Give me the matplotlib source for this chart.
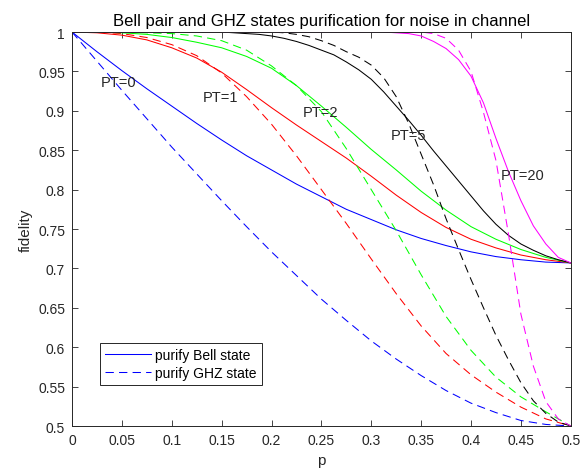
import numpy as np
import matplotlib
matplotlib.use("Agg")
import matplotlib.pyplot as plt
from matplotlib.lines import Line2D

matplotlib.rcParams['font.family'] = ['Liberation Sans', 'DejaVu Sans']

# p grid for the smoother curves (step 0.025) and the steep ones (step 0.0125)
p_coarse = np.linspace(0, 0.5, 21)
p_fine = np.linspace(0, 0.5, 41)

# PT=0
bell_pt0 = [1.0, 0.975, 0.951, 0.928, 0.906, 0.884, 0.863, 0.843, 0.825, 0.807, 0.791,
            0.775, 0.762, 0.749, 0.738, 0.729, 0.721, 0.715, 0.711, 0.708, 0.707]
ghz_pt0 = [1.0, 0.963, 0.926, 0.890, 0.854, 0.820, 0.786, 0.753, 0.721, 0.691, 0.661,
           0.634, 0.608, 0.585, 0.564, 0.545, 0.529, 0.517, 0.507, 0.502, 0.5]
# PT=1
bell_pt1 = [1.0, 0.999, 0.996, 0.990, 0.980, 0.967, 0.949, 0.927, 0.904, 0.882, 0.861,
            0.840, 0.817, 0.793, 0.771, 0.752, 0.737, 0.726, 0.717, 0.711, 0.707]
ghz_pt1 = [1.0, 1.0, 0.998, 0.993, 0.984, 0.970, 0.948, 0.918, 0.883, 0.843, 0.800,
           0.757, 0.712, 0.668, 0.627, 0.592, 0.565, 0.543, 0.524, 0.509, 0.5]
# PT=2
bell_pt2 = [1.0, 1.0, 0.999, 0.997, 0.993, 0.987, 0.980, 0.969, 0.954, 0.932, 0.906,
            0.879, 0.851, 0.825, 0.798, 0.774, 0.753, 0.737, 0.724, 0.714, 0.707]
ghz_pt2 = [1.0, 1.0, 1.0, 0.999, 0.998, 0.995, 0.989, 0.977, 0.957, 0.932, 0.899,
           0.852, 0.800, 0.748, 0.692, 0.639, 0.596, 0.562, 0.537, 0.518, 0.5]
# PT=5
bell_pt5 = [1.0] * 13 + [0.999, 0.998, 0.997, 0.995, 0.992, 0.988, 0.983, 0.977, 0.971,
                         0.962, 0.952, 0.940, 0.924, 0.906, 0.888, 0.869, 0.849, 0.830,
                         0.811, 0.792, 0.773, 0.756, 0.742, 0.731, 0.723, 0.716, 0.711, 0.707]
ghz_pt5 = [1.0] * 17 + [0.999, 0.997, 0.994, 0.989, 0.983, 0.975, 0.968, 0.958, 0.942,
                        0.918, 0.884, 0.845, 0.806, 0.763, 0.724, 0.686, 0.650, 0.615,
                        0.584, 0.555, 0.532, 0.516, 0.505, 0.5]
# PT=20
bell_pt20 = [1.0] * 26 + [0.999, 0.998, 0.995, 0.988, 0.979, 0.965, 0.944, 0.910, 0.865,
                          0.823, 0.786, 0.754, 0.731, 0.714, 0.707]
ghz_pt20 = [1.0] * 29 + [0.998, 0.992, 0.977, 0.950, 0.898, 0.837, 0.744, 0.642, 0.576,
                         0.531, 0.509, 0.5]

pt_labels = ['PT=0', 'PT=1', 'PT=2', 'PT=5', 'PT=20']
label_pos = [(0.029, 0.937), (0.131, 0.917), (0.231, 0.898), (0.320, 0.869), (0.430, 0.819)]

curves = [
    (p_coarse, bell_pt0, ghz_pt0, '#0000ff'),
    (p_coarse, bell_pt1, ghz_pt1, '#ff0000'),
    (p_coarse, bell_pt2, ghz_pt2, '#00ff00'),
    (p_fine, bell_pt5, ghz_pt5, '#000000'),
    (p_fine, bell_pt20, ghz_pt20, '#ff00ff'),
]

fig = plt.figure(figsize=(5.82, 4.77), dpi=100)
ax = fig.add_axes([0.1237, 0.1048, 0.857, 0.826])

lw = 0.75
for x, bell, ghz, c in curves:
    ax.plot(x, bell, color=c, lw=lw)
    ax.plot(x, ghz, color=c, lw=lw, dashes=(8, 5))

for txt, (px, py) in zip(pt_labels, label_pos):
    ax.text(px, py, txt, fontsize=10.5, ha='left', va='center', color='#262626')

ax.set_xlim(0, 0.5)
ax.set_ylim(0.5, 1)
xt = np.linspace(0, 0.5, 11)
yt = np.linspace(0.5, 1, 11)
ax.set_xticks(xt)
ax.set_xticklabels(['0', '0.05', '0.1', '0.15', '0.2', '0.25', '0.3', '0.35', '0.4', '0.45', '0.5'])
ax.set_yticks(yt)
ax.set_yticklabels(['0.5', '0.55', '0.6', '0.65', '0.7', '0.75', '0.8', '0.85', '0.9', '0.95', '1'])
ax.tick_params(direction='in', length=4, width=0.6, top=True, right=True,
               labelsize=10, colors='#262626', pad=5)
for s in ax.spines.values():
    s.set_linewidth(0.7)
    s.set_color('#262626')

ax.set_xlabel('p', fontsize=11, color='#262626')
ax.set_ylabel('fidelity', fontsize=11, color='#262626')
ax.set_title('Bell pair and GHZ states purification for noise in channel',
             fontsize=12, color='#000000', pad=5)

handles = [Line2D([], [], color='#0000ff', lw=lw),
           Line2D([], [], color='#0000ff', lw=lw, dashes=(8, 5))]
leg = ax.legend(handles, ['purify Bell state', 'purify GHZ state'],
                loc='lower left', bbox_to_anchor=(0.057, 0.105), fontsize=10,
                fancybox=False, framealpha=1, edgecolor='#262626',
                handlelength=3.3, handletextpad=0.3, borderpad=0.35,
                labelspacing=0.25, borderaxespad=0)
leg.get_frame().set_linewidth(0.7)

fig.savefig('out.png', dpi=100, facecolor='white')
